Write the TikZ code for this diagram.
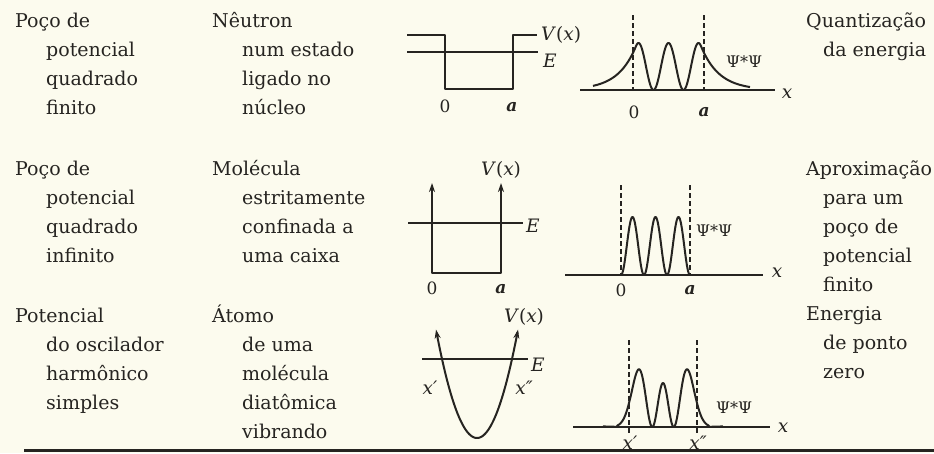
\documentclass[tikz,border=0pt]{standalone}
\usepackage{fontspec}
\setmainfont{DejaVu Serif}
\usetikzlibrary{arrows.meta}
\definecolor{ink}{RGB}{38,36,33}
\definecolor{paper}{RGB}{252,251,238}
\newcommand\txtblock[5]{%
  \foreach \ln [count=\i from 0] in {#5}{%
    \pgfmathsetmacro\xx{ifthenelse(\i>0,#4,#2)}%
    \node[lbl] (#1-\i) at (\xx,{#3+29*\i}) {\ln};}}
\begin{document}
\begin{tikzpicture}[x=1pt,y=-1pt,
  lbl/.style={anchor=base west, inner sep=0pt, text=ink, font=\fontsize{19}{22}\selectfont},
  ml/.style={inner sep=0pt, text=ink, font=\fontsize{18.5}{20}\selectfont\itshape},
  al/.style={inner sep=0pt, text=ink, font=\fontsize{17}{18}\selectfont\bfseries\itshape},
  num/.style={inner sep=0pt, text=ink, font=\fontsize{17}{18}\selectfont},
  psil/.style={inner sep=0pt, text=ink, font=\fontsize{16}{16}\selectfont},
  curve/.style={draw=ink, line width=2pt, line join=round},
  axis/.style={draw=ink, line width=1.8pt},
  dashline/.style={draw=ink, line width=1.3pt, dash pattern=on 5pt off 3pt}]
\fill[paper] (0,0) rectangle (934,453);
\useasboundingbox (0,0) rectangle (934,453);
% text columns
\txtblock{c1r1}{15}{27}{46}{Poço de,potencial,quadrado,finito}
\txtblock{c1r2}{15}{175}{46}{Poço de,potencial,quadrado,infinito}
\txtblock{c1r3}{15}{322}{46}{Potencial,do oscilador,harmônico,simples}
\txtblock{c2r1}{212}{27}{242}{Nêutron,num estado,ligado no,núcleo}
\txtblock{c2r2}{212}{175}{242}{Molécula,estritamente,confinada a,uma caixa}
\txtblock{c2r3}{212}{322}{242}{Átomo,de uma,molécula,diatômica,vibrando}
\txtblock{c4r1}{806}{27}{823}{Quantização,da energia}
\txtblock{c4r2}{806}{175}{823}{Aproximação,para um,poço de,potencial,finito}
\txtblock{c4r3}{806}{320}{823}{Energia,de ponto,zero}
% graph 1: finite well
\draw[curve] (407,35) -- (445,35) -- (445,89) -- (513,89) -- (513,35) -- (537,35);
\draw[axis] (407,52) -- (538,52);
\node[ml, anchor=west] (v1) at (541,35) {V\textup{(}x\textup{)}};
\node[ml, anchor=west] (e1) at (543,61) {E};
\node[num] (z1) at (445,106) {0};
\node[al] (a1) at (512,107) {a};
% graph 2
\draw[axis] (580,90) -- (775,90);
\draw[dashline] (633,15) -- (633,90);
\draw[dashline] (704,15) -- (704,90);
\draw[curve] plot[domain=-75.5:81.5, samples=240, smooth]
  ({668.5+\x},{90-47*ifthenelse(abs(\x)<32.5, cos(6*\x)*cos(6*\x), 0.933*exp(-0.055*(abs(\x)-32.5)))});
\node[psil, anchor=west] (p1) at (726,62) {Ψ*Ψ};
\node[ml] (x1) at (787,94) {x};
\node[num] (z2) at (634,112) {0};
\node[al] (a2) at (704,112) {a};
% graph 3: infinite well
\draw[curve, {Stealth[length=9pt,width=6pt]}-{Stealth[length=9pt,width=6pt]}] (432,183) -- (432,273) -- (501,273) -- (501,183);
\draw[axis] (408,223) -- (523,223);
\node[ml, anchor=west] (e3) at (526,226) {E};
\node[ml] (v3) at (501,170) {V\textup{(}x\textup{)}};
\node[num] (z3) at (432,288) {0};
\node[al] (a3) at (501,289) {a};
% graph 4
\draw[axis] (565,275) -- (763,275);
\draw[dashline] (621,185) -- (621,275);
\draw[dashline] (690,185) -- (690,275);
\draw[curve] plot[domain=0:69, samples=150, smooth] ({621+\x},{275-58*sin(7.826*\x)*sin(7.826*\x)});
\node[psil, anchor=west] (p2) at (696,231) {Ψ*Ψ};
\node[ml] (x2) at (777,273) {x};
\node[num] (z4) at (621,290) {0};
\node[al] (a4) at (690,290) {a};
% graph 5: harmonic potential
\draw[curve, {Stealth[length=9pt,width=6pt]}-{Stealth[length=9pt,width=6pt]}] plot[domain=-41:41, samples=80, smooth] ({477+\x},{438-0.0645*\x*\x});
\draw[axis] (422,359) -- (528,359);
\node[ml, anchor=west] (e5) at (531,365) {E};
\node[ml] (v5) at (524,317) {V\textup{(}x\textup{)}};
\node[ml] (xp5) at (430,388) {x′};
\node[ml] (xpp5) at (524,388) {x″};
% graph 6
\draw[axis] (573,427) -- (770,427);
\draw[dashline] (629,340) -- (629,433);
\draw[dashline] (697,340) -- (697,433);
\draw[curve] plot[domain=-3.95:3.95, samples=200, smooth] ({663+15.2*\x},{427-44*exp(-\x*\x)*(2*\x*\x-1)*(2*\x*\x-1)});
\node[psil, anchor=west] (p3) at (716,408) {Ψ*Ψ};
\node[ml] (x3) at (783,428) {x};
\node[ml] (xp6) at (630,443) {x′};
\node[ml] (xpp6) at (698,443) {x″};
% bottom rule
\coordinate (r1) at (24,450);
\coordinate (r2) at (934,450);
\draw[line width=3pt, ink] (r1) -- (r2);
\end{tikzpicture}
\end{document}
